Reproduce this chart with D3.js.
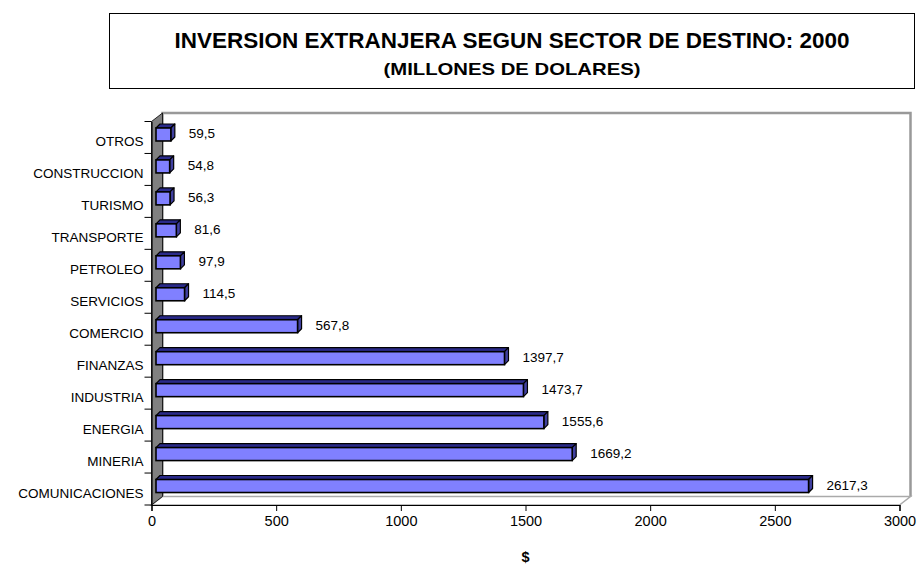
<!DOCTYPE html>
<html><head><meta charset="utf-8">
<script src="https://cdn.jsdelivr.net/npm/d3@7"></script>
<style>body{margin:0;background:#fff}svg{display:block}text{font-family:"Liberation Sans",Arial,sans-serif}</style>
</head><body><svg id="c" width="920" height="568"></svg>
<script>
const categories = ["OTROS","CONSTRUCCION","TURISMO","TRANSPORTE","PETROLEO","SERVICIOS","COMERCIO","FINANZAS","INDUSTRIA","ENERGIA","MINERIA","COMUNICACIONES"];
const values = [59.5,54.8,56.3,81.6,97.9,114.5,567.8,1397.7,1473.7,1555.6,1669.2,2617.3];
const valueLabels = ["59,5","54,8","56,3","81,6","97,9","114,5","567,8","1397,7","1473,7","1555,6","1669,2","2617,3"];
const xTicks = [0,500,1000,1500,2000,2500,3000];
const title1 = "INVERSION EXTRANJERA SEGUN SECTOR DE DESTINO: 2000";
const title2 = "(MILLONES DE DOLARES)";
const xTitle = "$";

const svg = d3.select("#c");
const x0 = 151.5, x1 = 899.5, yTop = 121.5, yBot = 505;
const DX = 11, DY = -8.5;       // wall depth
const BX = 4.5, BY = -3;        // bar depth position
const BDX = 4, BDY = -4;        // bar thickness
const x = d3.scaleLinear().domain([0,3000]).range([x0,x1]);
const y = d3.scaleBand().domain(categories).range([yTop,yBot]);

// title box
svg.append("rect").attr("x",109.5).attr("y",13.5).attr("width",805).attr("height",75)
  .attr("fill","#fff").attr("stroke","#000").attr("stroke-width",1);
svg.append("text").attr("x",512).attr("y",48).attr("text-anchor","middle")
  .attr("font-size",21.5).attr("font-weight","bold")
  .attr("textLength",675).attr("lengthAdjust","spacingAndGlyphs").text(title1);
svg.append("text").attr("x",512).attr("y",75).attr("text-anchor","middle")
  .attr("font-size",17).attr("font-weight","bold")
  .attr("textLength",257).attr("lengthAdjust","spacingAndGlyphs").text(title2);

// walls
const g = svg.append("g");
g.append("path").attr("d",`M${x0+DX},${yBot+DY}V${yTop+DY}H${x1+DX}V${yBot+DY}`)
  .attr("fill","#fff").attr("stroke","#999").attr("stroke-width",2.5);
g.append("path").attr("d",`M${x0},${yBot}L${x0+DX},${yBot+DY}H${x1+DX}L${x1},${yBot}Z`)
  .attr("fill","#fff").attr("stroke","#aaa").attr("stroke-width",1.5);
g.append("path").attr("d",`M${x0},${yTop}L${x0+DX},${yTop+DY}V${yBot+DY}L${x0},${yBot}Z`)
  .attr("fill","#808080").attr("stroke","#000").attr("stroke-width",0.8);

// bars
const bh = 13;
const bars = g.append("g").selectAll("g").data(categories).join("g");
bars.each(function(c,i){
  const sel = d3.select(this);
  const xl = x(0)+BX, xr = x(values[i])+BX;
  const cy = y(c)+y.bandwidth()/2+BY;
  const t = cy-bh/2, b = cy+bh/2;
  sel.append("path").attr("d",`M${xl},${t}L${xl+BDX},${t+BDY}H${xr+BDX}L${xr},${t}Z`)
    .attr("fill","#2a2a8a").attr("stroke","#000").attr("stroke-width",1.2).attr("stroke-linejoin","round");
  sel.append("path").attr("d",`M${xr},${t}L${xr+BDX},${t+BDY}V${b+BDY}L${xr},${b}Z`)
    .attr("fill","#4040a0").attr("stroke","#000").attr("stroke-width",1.2).attr("stroke-linejoin","round");
  sel.append("rect").attr("x",xl).attr("y",t).attr("width",xr-xl).attr("height",bh)
    .attr("fill","#8080ff").attr("stroke","#000").attr("stroke-width",1.6);
  sel.append("text").attr("x",xr+18).attr("y",cy).attr("font-size",13.5)
    .attr("dominant-baseline","middle").text(valueLabels[i]);
});

// axes
const xa = svg.append("g").attr("transform",`translate(0,${yBot})`)
  .call(d3.axisBottom(x).tickValues(xTicks).tickSize(6).tickFormat(d3.format("d")));
xa.select(".domain").attr("stroke","#000").attr("stroke-width",1.2);
xa.selectAll(".tick text").attr("font-size",14.5).attr("font-family","Liberation Sans, Arial").attr("dy","0.85em").attr("fill","#000");
xa.selectAll(".tick line").attr("stroke","#000");

const ya = svg.append("g").attr("transform",`translate(${x0},0)`)
  .call(d3.axisLeft(y).tickSize(0).tickPadding(8));
ya.select(".domain").attr("stroke","#000").attr("stroke-width",1.2);
ya.selectAll(".tick text").attr("font-size",13.5).attr("font-family","Liberation Sans, Arial").attr("fill","#000").attr("dy","0.65em");
ya.selectAll(".bt").data(d3.range(categories.length+1)).join("line")
  .attr("x1",-7).attr("x2",0)
  .attr("y1",i=>yTop+i*y.step()).attr("y2",i=>yTop+i*y.step())
  .attr("stroke","#000").attr("stroke-width",1);

svg.append("text").attr("x",(x0+x1)/2).attr("y",562).attr("text-anchor","middle")
  .attr("font-size",14.5).attr("font-weight","bold").text(xTitle);
</script></body></html>
